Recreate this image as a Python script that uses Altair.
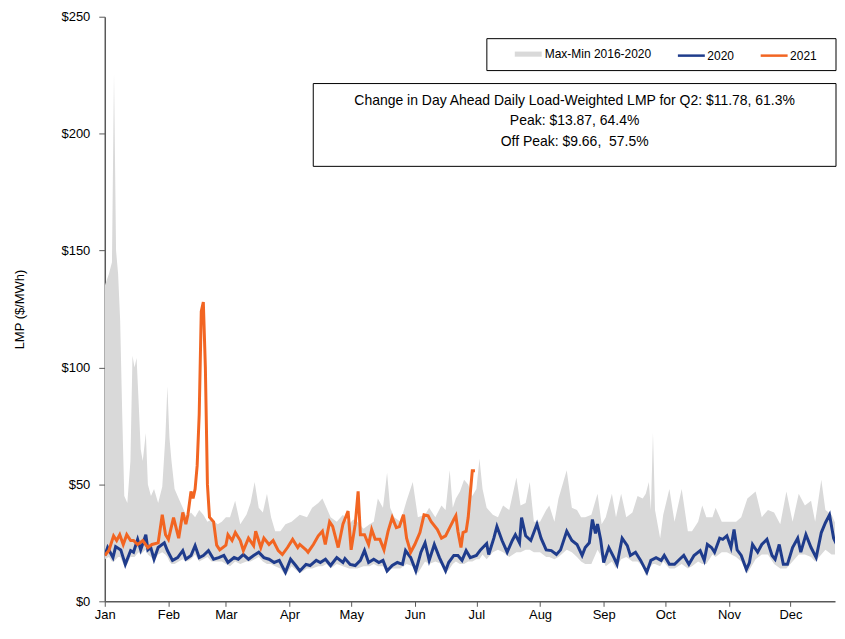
import altair as alt
import pandas as pd

# ---- data (day-of-year offsets from Jan 1) ----
band_days = [0, 2, 3.5, 4.5, 5.5, 6.5, 7.5, 8.5, 9.5, 11,
             12.5, 13.5, 14.5, 15.5, 16.5, 17.5, 18.5, 20, 21, 22.5,
             24, 26, 28, 29.5, 30.5, 31.5, 32.5, 34, 36, 38,
             40, 42, 44, 46, 48, 50, 52, 55, 57, 59,
             61, 63.5, 66, 69, 71, 73, 75, 77, 79, 81,
             83, 85.5, 88, 91, 95, 98.5, 101, 104, 106, 108,
             110, 113, 116, 119, 121, 123, 126, 129, 131, 133,
             135.5, 137.5, 139, 141, 144, 147, 150, 152.5, 156, 158,
             161, 164, 166, 168, 169.5, 171, 173, 175, 177, 179,
             181, 182.5, 184, 186, 189, 191.5, 194, 197, 200.5, 202.5,
             205, 207, 209, 212, 215, 216.5, 219, 221, 225, 227.5,
             230, 232, 234, 237, 240, 242, 244, 247, 249, 251.5,
             254, 257, 259.5, 262, 263.5, 265, 266, 267, 268, 270.5,
             272, 275, 277.5, 281, 284, 286, 289, 291, 293, 296,
             297.5, 300.5, 303, 307.5, 310, 313, 317, 320, 323, 326,
             329, 332, 335, 338, 341, 344, 346, 349, 351, 354,
             356.5, 359, 360]
band_max = [135, 140, 145, 226, 150, 140, 120, 80, 45, 42,
            60, 105, 100, 104, 85, 65, 60, 72, 50, 45,
            48, 42, 49, 70, 92, 70, 60, 48, 44, 40,
            36, 38, 36, 39, 37, 34, 35, 33, 34, 36,
            36, 43, 33, 37, 42, 51, 40, 38, 46, 36,
            30, 30, 33, 34, 37, 36, 40, 42, 44, 40,
            36, 34, 37, 33, 35, 34, 31, 33, 34, 44,
            40, 55, 40, 36, 34, 43, 51, 36, 37, 40,
            36, 41, 39, 56, 40, 44, 47, 52, 50, 45,
            48, 61, 48, 40, 37, 36, 41, 39, 53, 41,
            42, 51, 34, 34, 39, 41, 34, 44, 56, 40,
            39, 36, 36, 37, 46, 33, 36, 46, 36, 46,
            36, 38, 45, 44, 46, 51, 39, 72, 39, 27,
            37, 48, 34, 48, 30, 30, 34, 41, 36, 36,
            40, 34, 34, 34, 36, 44, 47, 36, 39, 38,
            33, 47, 34, 46, 41, 43, 34, 52, 39, 37,
            32, 34, 46]
band_min = [18, 19, 17, 17, 18, 19, 19, 17, 15, 16,
            19, 19, 19, 20, 21, 20, 21, 22, 20, 19,
            17, 20, 21, 20, 19, 17, 16, 16, 17, 18,
            17, 18, 20, 17, 18, 19, 17, 17, 17, 16,
            15, 17, 16, 17, 17, 18, 19, 17, 16, 16,
            15, 14, 11, 15, 12, 14, 14, 15, 15, 16,
            14, 16, 15, 14, 14, 14, 15, 15, 16, 15,
            15, 12, 14, 14, 14, 16, 15, 12, 17, 16,
            17, 16, 12, 14, 16, 17, 16, 16, 17, 17,
            18, 18, 20, 18, 21, 22, 21, 19, 21, 21,
            22, 22, 21, 21, 19, 19, 18, 19, 22, 21,
            19, 17, 16, 16, 22, 19, 15, 17, 14, 18,
            19, 17, 17, 15, 11, 14, 15, 16, 16, 15,
            17, 14, 14, 16, 14, 15, 17, 16, 16, 20,
            19, 21, 21, 19, 17, 12, 18, 20, 20, 16,
            14, 14, 17, 20, 20, 19, 17, 20, 22, 20,
            20, 18, 20]

days_2020 = [0, 1.4, 4, 5.3, 7.8, 10, 12.6, 14, 16, 17.5,
             20, 21, 22.4, 24, 26, 29, 30.5, 33, 35.5, 38,
             39.5, 42, 44, 46, 48, 50.5, 53, 55.5, 58, 60,
             63, 65, 67.5, 70, 72.5, 75, 77.5, 80, 82.5, 85,
             88, 90.5, 93, 95, 98, 100, 103, 105, 107.5, 110,
             113, 116, 117, 119.5, 122, 124.5, 126.5, 128.5, 131, 133.5,
             135.5, 137.5, 140, 142.5, 145, 146.5, 149, 151.5, 154, 156,
             158, 160.5, 163, 166, 167.5, 170, 172, 174, 176, 178,
             181, 183, 186, 187, 189.5, 191, 193.5, 196, 198.5, 200,
             202, 203, 205, 207.5, 210.5, 212.5, 215, 217.5, 220, 222,
             225, 227.5, 230, 232.5, 234, 236, 237.5, 239, 240, 241.5,
             243, 245.5, 248, 249.5, 252, 254.5, 256, 258.5, 261, 264,
             266, 268.5, 271, 272.5, 275, 277.5, 280, 282, 284.5, 287,
             290, 292, 293.5, 295.5, 297, 299.5, 301, 303, 305, 306.5,
             308, 310, 312.5, 314, 315.5, 318, 320, 322.5, 325, 326.5,
             328.5, 330.5, 332.5, 335, 337.5, 339, 341.5, 344, 346.5, 349,
             351, 353, 355, 356.5, 359, 360]
lmp_2020 = [19.6, 23, 18.7, 23.4, 22, 15.8, 21.7, 21, 26.5, 22,
            28.5, 22, 23, 18, 23, 25, 21.7, 17.5, 18.7, 21.7,
            18, 19.6, 23.8, 18.7, 19.6, 21.7, 18, 18.7, 19.6, 16.6,
            18.7, 18, 20, 18, 19.6, 21, 18.7, 18, 16.6, 17.5,
            12.4, 18, 15.3, 13, 15.8, 15.3, 17.5, 16.6, 18, 15.3,
            18.7, 16.6, 18.3, 15.8, 15.3, 17.5, 21.7, 16.6, 18, 16.6,
            17.5, 13, 15.3, 16.6, 15.8, 21.7, 18.7, 13, 21, 25,
            17.5, 24.3, 18.7, 13, 16.6, 19.6, 19.6, 17.5, 21.7, 18.7,
            19.6, 22, 24.7, 20, 27, 32, 26, 21, 26, 28.5,
            25, 35.8, 28, 26, 33, 27, 22, 21.7, 20, 22,
            30, 26, 24.3, 19.6, 23, 25, 35, 29, 33, 26.5,
            16.6, 23, 18.7, 15.8, 27, 23.8, 19.6, 21, 17.5, 12.4,
            17.5, 18.7, 17.5, 19.6, 15.8, 15.8, 18, 19.6, 15.8, 19.6,
            21.7, 17.5, 24.3, 23, 21, 27, 26.5, 28, 23, 30.7,
            22, 19.6, 13.6, 16.6, 24.3, 21, 24.3, 26.5, 19.6, 18,
            24.3, 15.8, 15.8, 23, 27, 21, 28.5, 23, 18.7, 29.4,
            33.6, 37, 27, 24.3, 19.6, 28.5]

days_2021 = [0, 2, 4.3, 5.8, 7.3, 9, 10.7, 12.6, 14, 16,
             18.5, 21, 23, 26, 28, 29.6, 31, 33.5, 36, 38,
             39.5, 40.5, 42, 43, 44, 45, 46, 47, 48, 49,
             50, 51, 53, 54.5, 56, 59, 60, 62, 63.6, 66,
             67.5, 70, 72.5, 73.5, 76, 77.5, 80, 82, 84.5, 86.5,
             89, 91.5, 94, 95, 98, 99, 101.6, 104, 106, 107.4,
             109.5, 111, 113.7, 116, 118.5, 120, 122, 123.4, 124.5, 126.5,
             128.5, 130, 131.7, 134, 136, 138, 140, 142, 143.5, 145.5,
             147, 149, 151, 153.5, 155.5, 157.5, 159, 162, 164, 166,
             168, 170, 171, 172, 173.5, 174.5, 176, 177, 179, 180.3]
lmp_2021 = [19.6, 21.7, 28, 26, 28.5, 24.3, 28.5, 26, 26, 24.3,
            26, 23, 24.3, 25, 37, 28.5, 26.5, 35.8, 27, 38,
            33, 37, 47, 44, 48, 58, 80, 124, 128, 100,
            50, 36, 34, 24, 22, 24, 28.5, 26, 29.4, 26,
            21.7, 27, 23.8, 30, 23, 27, 24.3, 26, 21.7, 20,
            23, 26.5, 23, 24.3, 22, 21, 24.3, 28, 30, 24.3,
            34, 32, 23, 33, 38.6, 22, 33, 47, 28.5, 28.5,
            24.3, 30.7, 26.5, 26.5, 22, 30, 35.8, 31.5, 32, 37,
            27, 21, 24.3, 29.4, 37, 36.6, 34, 30.7, 27, 28,
            31.5, 35, 36.6, 30, 23, 29.4, 30, 35.8, 55.8, 55.8]

month_ticks = list(range(1, 13))
y_ticks = [0, 50, 100, 150, 200, 250]
band_name = ["Max-Min 2016-2020"]
band_color = ["#D9D9D9"]
line_names = ["2020", "2021"]
line_colors = ["#1F3C8C", "#F26522"]
annotation_lines = [
    "Change in Day Ahead Daily Load-Weighted LMP for Q2: $11.78, 61.3%",
    "Peak: $13.87, 64.4%",
    "Off Peak: $9.66,\u00a0 57.5%",
]

# ---- build tables ----
start = pd.Timestamp("2021-01-01")


def to_dates(days):
    return [start + pd.Timedelta(days=d) for d in days]


band_df = pd.DataFrame({"date": to_dates(band_days), "max": band_max,
                        "min": band_min, "band": band_name[0]})
lines_df = pd.concat([
    pd.DataFrame({"date": to_dates(days_2020), "lmp": lmp_2020, "series": line_names[0]}),
    pd.DataFrame({"date": to_dates(days_2021), "lmp": lmp_2021, "series": line_names[1]}),
], ignore_index=True)
note_df = pd.DataFrame({"note": ["\n".join(annotation_lines)]})

FONT = "Liberation Sans"

x_enc = alt.X(
    "date:T",
    scale=alt.Scale(domain=[alt.DateTime(year=2021, month=1, date=1),
                            alt.DateTime(year=2021, month=12, date=22, hours=16)]),
    axis=alt.Axis(title=None, format="%b", tickSize=5, labelPadding=2, labelFlush=False,
                  values=[alt.DateTime(year=2021, month=m, date=1) for m in month_ticks]),
)
y_scale = alt.Scale(domain=[0, 250], nice=False)
y_axis = alt.Axis(title="LMP ($/MWh)", values=y_ticks, format="$,.0f",
                  tickSize=6, labelPadding=9, titlePadding=35)

band = alt.Chart(band_df).mark_area(opacity=1, clip=True).encode(
    x=x_enc,
    y=alt.Y("max:Q", scale=y_scale, axis=y_axis),
    y2="min:Q",
    fill=alt.Fill(
        "band:N",
        scale=alt.Scale(domain=band_name, range=band_color),
        legend=alt.Legend(
            title=None, orient="none", legendX=411, legendY=24,
            symbolType="M-1,-0.19H1V0.19H-1Z", symbolSize=729,
            symbolStrokeWidth=0, padding=0, labelFont=FONT, labelFontSize=12,
            labelColor="black", labelOffset=3,
        ),
    ),
)

legend_box = alt.Chart(note_df).mark_rect(fill="white", stroke="black", strokeWidth=1).encode(
    x=alt.value(383), x2=alt.value(733), y=alt.value(22), y2=alt.value(54)
)

lines = alt.Chart(lines_df).mark_line(strokeWidth=3, clip=True).encode(
    x=x_enc,
    y=alt.Y("lmp:Q", scale=y_scale, axis=y_axis),
    color=alt.Color(
        "series:N",
        scale=alt.Scale(domain=line_names, range=line_colors),
        legend=alt.Legend(
            title=None, orient="none", legendX=573, legendY=24,
            direction="horizontal", symbolType="stroke", symbolSize=729,
            symbolStrokeWidth=2.5, padding=0, columnPadding=21,
            labelFont=FONT, labelFontSize=12, labelColor="black", labelOffset=1,
        ),
    ),
)

note_box = alt.Chart(note_df).mark_rect(fill="white", stroke="black", strokeWidth=1).encode(
    x=alt.value(209), x2=alt.value(733), y=alt.value(67), y2=alt.value(150)
)
note_text = alt.Chart(note_df).mark_text(
    align="center", baseline="top", lineBreak="\n", lineHeight=21,
    font=FONT, fontSize=14, color="black",
).encode(x=alt.value(471), y=alt.value(77), text="note:N")

chart = alt.layer(band, lines, legend_box, note_box, note_text).resolve_legend(
    fill="independent", color="independent"
).properties(
    width=732, height=586,
    padding={"left": 5, "top": 2, "right": 0, "bottom": 0},
).configure_axis(
    labelFont=FONT, labelFontSize=13, labelColor="black",
    titleFont=FONT, titleFontSize=13, titleFontWeight="normal", titleColor="black",
    domainColor="#595959", tickColor="#595959", domainWidth=1.5, grid=False,
).configure_view(stroke=None)

chart.save("out.html", embed_options={"renderer": "svg", "actions": False})
